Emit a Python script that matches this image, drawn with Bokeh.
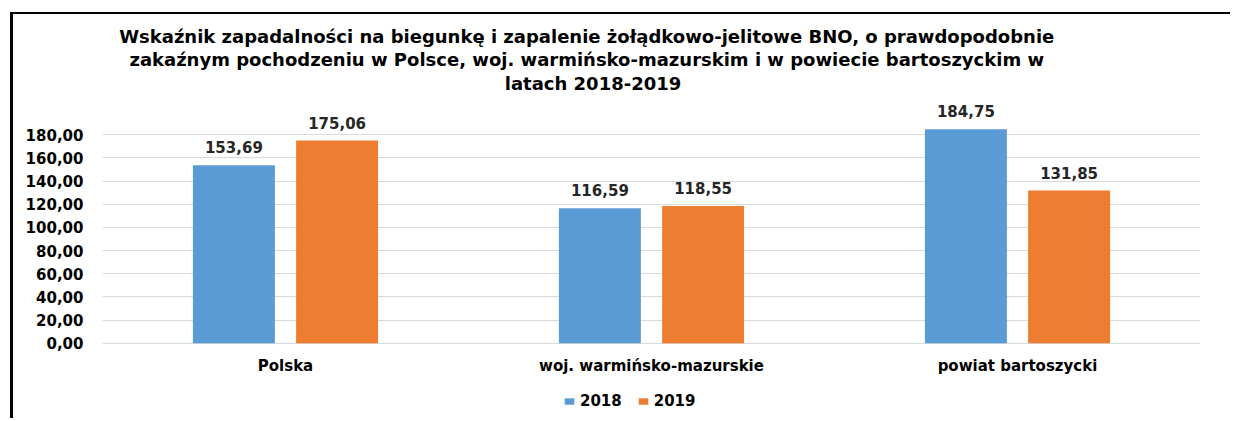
from bokeh.plotting import figure
from bokeh.models import (FactorRange, Range1d, FixedTicker, ColumnDataSource,
                          LabelSet, Legend, LegendItem)
from bokeh.core.properties import value
from bokeh.transform import dodge
from bokeh.embed import file_html
from bokeh.resources import INLINE

# ---- data ----
categories = ["Polska", "woj. warmińsko-mazurskie", "powiat bartoszycki"]
series_names = ["2018", "2019"]
values_2018 = [153.69, 116.59, 184.75]
values_2019 = [175.06, 118.55, 131.85]
y_ticks = [0, 20, 40, 60, 80, 100, 120, 140, 160, 180]
y_tick_labels = ["0,00", "20,00", "40,00", "60,00", "80,00", "100,00",
                 "120,00", "140,00", "160,00", "180,00"]
title_lines = [
    "Wskaźnik zapadalności  na biegunkę  i zapalenie żołądkowo-jelitowe BNO, o prawdopodobnie",
    "zakaźnym pochodzeniu w Polsce, woj. warmińsko-mazurskim  i w powiecie bartoszyckim  w",
    "latach 2018-2019",
]
title_y = [265.0, 245.0, 224.2]
category_label_y = -19.3

BLUE = "#5B9BD5"
ORANGE = "#ED7D31"
GRID = "#D9D9D9"
FONT = "DejaVu Sans"

def fmt(v):
    return f"{v:.2f}".replace(".", ",")

src = ColumnDataSource(dict(
    cat=categories,
    v2018=values_2018,
    v2019=values_2019,
    l2018=[fmt(v) for v in values_2018],
    l2019=[fmt(v) for v in values_2019],
    ly=[category_label_y] * len(categories),
))
title_src = ColumnDataSource(dict(
    x=[categories[1]] * len(title_lines),
    y=title_y,
    t=title_lines,
))

p = figure(
    width=1220, height=406,
    x_range=FactorRange(factors=categories, range_padding=0),
    y_range=Range1d(-66.8, 283.9),
    x_axis_location=None,
    output_backend="svg", toolbar_location=None,
    min_border_left=89, min_border_right=33,
    min_border_top=0, min_border_bottom=0,
)
p.styles = {"border-left": "3px solid black", "border-top": "2px solid black"}
p.margin = (12, 0, 0, 10)
p.outline_line_color = None
p.background_fill_color = "white"
p.border_fill_color = "white"

off = 0.141
w = 0.224
r1 = p.vbar(x=dodge("cat", -off, range=p.x_range), top="v2018", width=w,
            source=src, fill_color=BLUE, line_color=None)
r2 = p.vbar(x=dodge("cat", off, range=p.x_range), top="v2019", width=w,
            source=src, fill_color=ORANGE, line_color=None)

for col, d in (("l2018", -off), ("l2019", off)):
    ls = LabelSet(x=dodge("cat", d, range=p.x_range), y="v" + col[1:], text=col,
                  source=src, text_align="center", text_baseline="alphabetic",
                  y_offset=12, text_font=value(FONT), text_font_style="bold",
                  text_font_size="15px", text_color="#262626")
    p.add_layout(ls)

# category labels under the zero line
p.text(x="cat", y="ly", text="cat", source=src,
       text_align="center", text_baseline="alphabetic",
       text_font=value(FONT), text_font_style="bold",
       text_font_size="15px", text_color="#000000")

# title
p.text(x="x", y="y", text="t", source=title_src, x_offset=-58.5,
       text_align="center", text_baseline="alphabetic",
       text_font=value(FONT), text_font_style="bold",
       text_font_size="18px", text_color="#000000")

# y axis
p.yaxis.ticker = FixedTicker(ticks=y_ticks)
p.yaxis.major_label_overrides = {t: l for t, l in zip(y_ticks, y_tick_labels)}
p.yaxis.axis_line_color = None
p.yaxis.major_tick_line_color = None
p.yaxis.major_tick_out = 0
p.yaxis.major_tick_in = 0
p.yaxis.minor_tick_line_color = None
p.yaxis.major_label_standoff = 19
p.yaxis.major_label_text_font = FONT
p.yaxis.major_label_text_font_style = "bold"
p.yaxis.major_label_text_font_size = "15px"
p.yaxis.major_label_text_color = "#000000"

p.xgrid.grid_line_color = None
p.ygrid.ticker = FixedTicker(ticks=y_ticks)
p.ygrid.grid_line_color = GRID
p.ygrid.grid_line_width = 1

legend = Legend(items=[LegendItem(label=series_names[0], renderers=[r1]),
                       LegendItem(label=series_names[1], renderers=[r2])],
                orientation="horizontal", location=(461, 10),
                glyph_width=12, glyph_height=8, label_standoff=5, spacing=15,
                padding=0, margin=0, border_line_color=None,
                background_fill_alpha=0,
                label_text_font=FONT, label_text_font_style="bold",
                label_text_font_size="15px", label_text_color="#000000",
                label_height=16)
p.add_layout(legend, "center")

open("out.html", "w").write(file_html(p, INLINE))
